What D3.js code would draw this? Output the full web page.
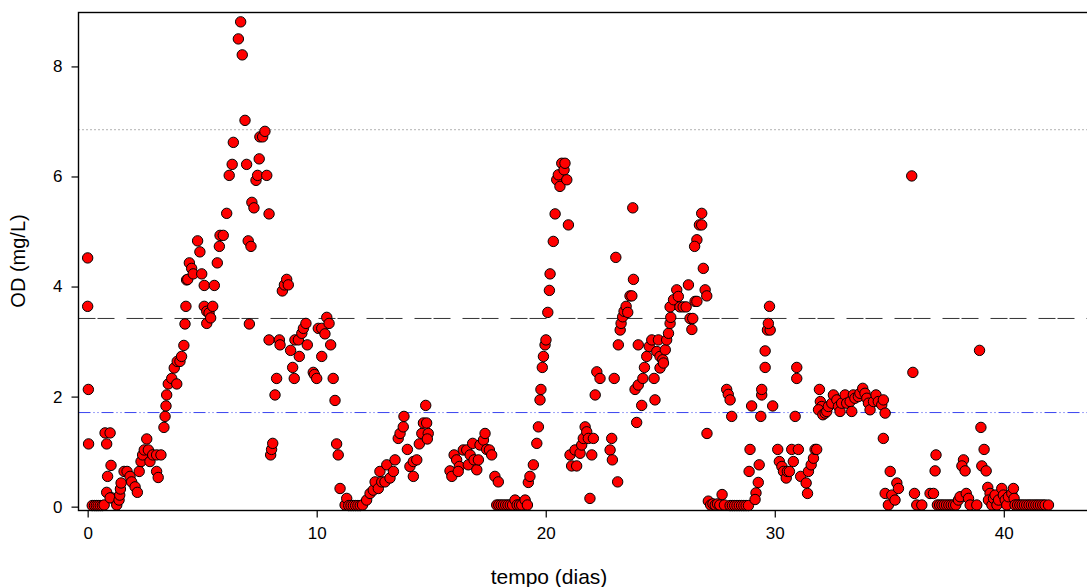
<!DOCTYPE html>
<html>
<head>
<meta charset="utf-8">
<script src="https://cdn.jsdelivr.net/npm/d3@7"></script>
<style>
  body { margin: 0; background: #fff; }
  svg { display: block; font-family: "Liberation Sans", Arial, sans-serif; }
</style>
</head>
<body>
<svg id="chart" width="1087" height="587"></svg>
<script>
// OD (mg/L) over time (days)
// each period: [tempo, OD]
const periodo1 = [
  [0, 4.52], [0, 3.64], [0.03, 2.13], [0.04, 1.14],
  [0.2, 0.02], [0.3, 0.02], [0.38, 0.02], [0.46, 0.02], [0.55, 0.02], [0.64, 0.02], [0.72, 0.03],
  [0.76, 1.34], [0.98, 1.34], [0.83, 1.14], [1.02, 0.75], [0.87, 0.55], [0.83, 0.26], [1.05, 0.16], [0.98, 0.16], [1.27, 0.03],
  [1.37, 0.12], [1.4, 0.21], [1.43, 0.32], [1.46, 0.43], [1.59, 0.64], [1.72, 0.64], [1.85, 0.55], [1.92, 0.45],
  [2.07, 0.36], [2.17, 0.26], [2.25, 0.64], [2.33, 0.82], [2.4, 0.94], [2.47, 1.03], [2.58, 1.23], [2.65, 1.03],
  [2.72, 0.82], [2.84, 0.94], [3.01, 0.94], [3.2, 0.94], [3.01, 0.64], [3.08, 0.53],
  [3.33, 1.44], [3.38, 1.64], [3.42, 1.83], [3.45, 2.03], [3.52, 2.23], [3.67, 2.33], [3.78, 2.52], [3.91, 2.64],
  [4.03, 2.64], [4.1, 2.73], [4.2, 2.93], [3.89, 2.23], [4.25, 3.32], [4.29, 3.64], [4.32, 4.12]
];
const periodo2 = [
  [4.37, 4.13], [4.44, 4.43], [4.54, 4.33], [4.61, 4.23], [4.8, 4.83], [4.9, 4.63], [4.98, 4.23], [5.09, 4.02], [5.53, 4.02],
  [5.09, 3.64], [5.2, 3.55], [5.3, 3.52], [5.46, 3.64], [5.2, 3.33], [5.37, 3.43],
  [5.66, 4.43], [5.75, 4.73], [5.78, 4.93], [5.92, 4.93], [6.07, 5.33], [6.18, 6.02], [6.31, 6.22], [6.36, 6.62],
  [6.58, 8.5], [6.68, 8.81], [6.75, 8.21], [6.87, 7.02], [6.94, 6.22], [7.01, 4.83], [7.13, 4.73], [7.06, 3.32],
  [7.17, 5.53], [7.26, 5.43], [7.35, 5.93], [7.42, 6.02], [7.49, 6.32], [7.52, 6.72], [7.64, 6.72], [7.74, 6.82],
  [7.82, 6.02], [7.92, 5.32],
  [7.92, 3.03], [7.99, 0.94], [8.03, 1.04], [8.08, 1.15], [8.18, 2.03], [8.25, 2.33], [8.37, 3.03], [8.4, 2.94],
  [8.5, 3.92], [8.59, 4.03], [8.69, 4.13], [8.76, 4.03], [8.86, 2.84], [8.95, 2.53], [9.02, 2.33], [9.05, 3.03],
  [9.2, 3.03], [9.24, 2.73], [9.35, 3.15], [9.42, 3.24], [9.53, 3.33], [9.59, 2.94],
  [9.85, 2.44], [9.9, 2.4], [10.0, 2.33], [10.07, 3.24], [10.22, 3.24], [10.22, 2.73], [10.36, 3.14], [10.44, 3.44],
  [10.54, 3.33], [10.61, 2.94], [10.72, 2.33], [10.8, 1.93], [10.87, 1.14], [10.94, 0.94]
];
const periodo3 = [
  [11.02, 0.33], [11.24, 0.03], [11.31, 0.15], [11.4, 0.02], [11.5, 0.02], [11.6, 0.02], [11.7, 0.02], [11.8, 0.02],
  [11.9, 0.02], [12.0, 0.03],
  [12.18, 0.12], [12.33, 0.24], [12.47, 0.3], [12.55, 0.45], [12.69, 0.33], [12.84, 0.45], [12.98, 0.45], [12.76, 0.64],
  [13.06, 0.76], [13.2, 0.52], [13.35, 0.64], [13.42, 0.85],
  [13.56, 1.24], [13.64, 1.33], [13.78, 1.45], [13.81, 1.64], [13.96, 1.04], [14.07, 0.73], [14.22, 0.82], [14.37, 0.85],
  [14.22, 0.55], [14.48, 1.14], [14.59, 1.33], [14.66, 1.52], [14.8, 1.52], [14.87, 1.33], [14.83, 1.23], [14.76, 1.84],
  [15.82, 0.65], [15.9, 0.55], [16.0, 0.94], [16.11, 0.85], [16.23, 0.73], [16.18, 0.64], [16.4, 1.03], [16.55, 1.03],
  [16.7, 0.94], [16.62, 0.76], [16.81, 1.15], [16.87, 0.85], [16.99, 0.67], [17.06, 0.85], [17.13, 1.12], [17.28, 1.21],
  [17.35, 1.33], [17.42, 1.04], [17.54, 1.03], [17.64, 0.94], [17.78, 0.55], [17.93, 0.45]
];
const periodo4 = [
  [17.86, 0.03], [17.95, 0.03], [18.05, 0.03], [18.15, 0.03], [18.25, 0.03], [18.35, 0.03], [18.45, 0.03], [18.55, 0.03],
  [18.66, 0.12], [18.75, 0.03], [18.85, 0.03], [18.95, 0.03], [19.1, 0.12], [19.2, 0.03],
  [19.24, 0.44], [19.31, 0.55], [19.46, 0.76], [19.61, 1.15], [19.68, 1.45], [19.75, 1.94], [19.79, 2.13], [19.85, 2.53],
  [19.9, 2.73], [19.97, 2.94], [20.01, 3.03], [20.09, 3.53], [20.16, 3.93], [20.19, 4.23], [20.33, 4.82], [20.41, 5.32],
  [20.48, 5.94], [20.55, 6.03], [20.62, 5.82], [20.7, 6.24], [20.8, 6.12], [20.84, 6.24], [20.92, 5.94], [20.99, 5.12],
  [21.06, 0.94], [21.13, 0.74], [21.28, 1.03], [21.35, 0.74], [21.5, 0.97], [21.57, 1.12], [21.64, 1.24], [21.72, 1.45],
  [21.79, 1.36], [21.86, 1.24], [22.01, 0.94], [22.08, 1.24], [21.93, 0.15],
  [22.16, 2.03], [22.23, 2.45], [22.37, 2.33], [22.81, 1.03], [22.88, 1.24], [22.91, 0.85], [23.14, 0.45], [22.99, 2.33],
  [23.06, 4.53],
  [23.17, 2.94], [23.25, 3.21], [23.29, 3.33], [23.36, 3.45], [23.42, 3.55], [23.51, 3.64], [23.58, 3.53], [23.68, 3.83],
  [23.76, 3.83], [23.83, 4.13], [23.8, 5.43], [23.97, 1.53], [24.19, 1.84],
  [23.9, 2.13], [24.04, 2.21], [24.04, 2.94], [24.24, 2.33], [24.31, 2.53], [24.41, 2.73], [24.52, 2.91], [24.63, 3.03],
  [24.92, 3.03], [24.85, 2.82], [24.99, 2.73], [25.11, 2.67], [24.73, 2.33], [24.77, 1.94],
  [24.99, 2.52], [25.14, 2.61], [25.22, 2.85], [25.28, 3.03], [25.36, 3.15], [25.43, 3.33], [25.46, 3.44],
  [25.43, 3.63], [25.58, 3.76], [25.72, 3.94], [25.79, 3.82], [25.86, 3.63], [26.0, 3.63], [26.13, 3.63], [26.23, 4.03],
  [26.3, 3.42], [26.42, 3.42], [26.38, 3.22], [26.52, 3.73], [26.6, 3.73],
  [26.81, 5.33], [26.71, 5.12], [26.81, 5.12], [26.6, 4.85], [26.5, 4.73], [26.88, 4.33], [26.96, 3.94], [27.03, 3.83],
  [27.04, 1.33]
];
const periodo5 = [
  [27.1, 0.1], [27.2, 0.03], [27.3, 0.05], [27.4, 0.03], [27.5, 0.05], [27.6, 0.03], [27.7, 0.22], [27.8, 0.03],
  [28.05, 0.02], [28.15, 0.02], [28.25, 0.02], [28.35, 0.02], [28.45, 0.02], [28.55, 0.02], [28.65, 0.02], [28.75, 0.02],
  [28.85, 0.02],
  [27.9, 2.13], [27.97, 2.04], [28.05, 1.94], [28.12, 1.64],
  [28.92, 1.04], [28.88, 0.64], [29.32, 0.76], [29.28, 0.44], [29.18, 0.25], [29.14, 0.13], [28.99, 1.83],
  [29.39, 1.64], [29.43, 2.03], [29.43, 2.13], [29.58, 2.53], [29.58, 2.83], [29.68, 3.21], [29.8, 3.21], [29.72, 3.33],
  [29.77, 3.64], [29.91, 1.83],
  [30.13, 1.04], [30.2, 0.82], [30.31, 0.73], [30.38, 0.64], [30.5, 0.52], [30.55, 0.64], [30.64, 0.64], [30.74, 1.04],
  [30.81, 0.82], [31.03, 1.04], [30.89, 1.64], [30.96, 2.33], [30.96, 2.53],
  [31.13, 0.55], [31.37, 0.43], [31.43, 0.24], [31.47, 0.64], [31.59, 0.76], [31.69, 0.88], [31.76, 1.04], [31.83, 1.04],
  [31.95, 2.13], [31.99, 1.91], [32.05, 1.82], [31.91, 1.76], [32.1, 1.67], [32.2, 1.7], [32.27, 1.73], [32.34, 1.82],
  [32.49, 1.88], [32.56, 2.03], [32.71, 1.94], [32.78, 1.82], [32.85, 1.73], [32.92, 1.88], [33.07, 2.03], [33.14, 1.88],
  [33.29, 1.91], [33.36, 1.73], [33.43, 2.03], [33.5, 1.97], [33.65, 2.0], [33.72, 2.06], [33.84, 2.15], [33.94, 2.06],
  [34.02, 1.97], [34.09, 1.88], [34.16, 1.76], [34.31, 1.91], [34.42, 2.03], [34.52, 1.91], [34.67, 1.85], [34.74, 1.94],
  [34.82, 1.7],
  [34.74, 1.24], [35.04, 0.64], [34.82, 0.24], [34.96, 0.03], [35.11, 0.21], [35.25, 0.12], [35.33, 0.43], [35.4, 0.33],
  [35.98, 6.01], [36.03, 2.44], [36.1, 0.24], [36.2, 0.03], [36.42, 0.03],
  [37.04, 0.94], [37.0, 0.65], [36.78, 0.24], [36.93, 0.24],
  [37.1, 0.03], [37.2, 0.03], [37.3, 0.03], [37.4, 0.03], [37.5, 0.03], [37.6, 0.03], [37.7, 0.03], [37.8, 0.03], [37.9, 0.03],
  [38.24, 0.85], [38.17, 0.74], [38.31, 0.65], [38.02, 0.12], [38.09, 0.18], [38.36, 0.24], [38.46, 0.15], [38.53, 0.03],
  [38.82, 0.03],
  [38.94, 2.84], [39.0, 1.44], [39.14, 1.04], [39.04, 0.74], [39.23, 0.65],
  [39.3, 0.35], [39.4, 0.24], [39.33, 0.12], [39.48, 0.03], [39.55, 0.15], [39.62, 0.21], [39.7, 0.03], [39.77, 0.12],
  [39.91, 0.33], [39.98, 0.21], [40.06, 0.12], [40.13, 0.03], [40.2, 0.18], [40.35, 0.24], [40.42, 0.33], [40.45, 0.15],
  [40.49, 0.03],
  [40.6, 0.03], [40.7, 0.03], [40.8, 0.03], [40.9, 0.03], [41.0, 0.03], [41.1, 0.03], [41.2, 0.03], [41.3, 0.03],
  [41.4, 0.03], [41.5, 0.03], [41.6, 0.03], [41.7, 0.03], [41.8, 0.03], [41.95, 0.03]
];

// horizontal reference levels
const limites = [
  {nome: 'pontilhado', valor: 6.85},
  {nome: 'tracejado', valor: 3.42},
  {nome: 'azul', valor: 1.71}
];
const xTicks = [0, 10, 20, 30, 40];
const yTicks = [0, 2, 4, 6, 8];

const data = [].concat(periodo1, periodo2, periodo3, periodo4, periodo5);

const svg = d3.select('#chart');
const plot = {left: 78.5, right: 1100, top: 12.5, bottom: 510.5};

const x = d3.scaleLinear().domain([-0.4, 44.2]).range([plot.left, plot.right]);
const y = d3.scaleLinear().domain([-0.07, 8.98]).range([plot.bottom, plot.top]);

// reference lines
const lineStyles = {
  pontilhado: {stroke: '#666', dash: '1,3', width: 1},
  tracejado: {stroke: '#333', dash: '17,2,17,12', width: 1},
  azul: {stroke: '#3a45f0', dash: '12,3,1,3,1,3', width: 1}
};
svg.append('g').selectAll('line')
  .data(limites)
  .enter()
    .append('line')
    .attr('x1', plot.left).attr('x2', plot.right)
    .attr('y1', d => y(d.valor)).attr('y2', d => y(d.valor))
    .attr('stroke', d => lineStyles[d.nome].stroke)
    .attr('stroke-width', d => lineStyles[d.nome].width)
    .attr('stroke-dasharray', d => lineStyles[d.nome].dash);

// points
svg.append('g').selectAll('circle')
  .data(data)
  .enter()
    .append('circle')
    .attr('cx', d => x(d[0]))
    .attr('cy', d => y(d[1]))
    .attr('r', 5.2)
    .attr('fill', '#ff0000')
    .attr('stroke', '#000')
    .attr('stroke-width', 1);

// frame
svg.append('rect')
  .attr('x', plot.left).attr('y', plot.top)
  .attr('width', plot.right - plot.left).attr('height', plot.bottom - plot.top)
  .attr('fill', 'none')
  .attr('stroke', '#000')
  .attr('stroke-width', 1.4);

// axes
const yAxis = d3.axisLeft(y).tickValues(yTicks).tickSize(7).tickPadding(9).tickFormat(d3.format('d'));
svg.append('g')
  .attr('transform', `translate(${plot.left}, 0)`)
  .call(yAxis)
  .call(g => g.select('.domain').remove())
  .call(g => g.selectAll('line').attr('stroke-width', 1.2))
  .call(g => g.selectAll('text').style('font-size', '17px').style('font-family', '"Liberation Sans", Arial, sans-serif').attr('fill', '#000'));

const xAxis = d3.axisBottom(x).tickValues(xTicks).tickSize(7).tickPadding(9).tickFormat(d3.format('d'));
svg.append('g')
  .attr('transform', `translate(0, ${plot.bottom})`)
  .call(xAxis)
  .call(g => g.select('.domain').remove())
  .call(g => g.selectAll('line').attr('stroke-width', 1.2))
  .call(g => g.selectAll('text').style('font-size', '17px').style('font-family', '"Liberation Sans", Arial, sans-serif').attr('fill', '#000'));

// axis titles
svg.append('text')
  .attr('x', 549).attr('y', 584)
  .attr('text-anchor', 'middle')
  .style('font-size', '21px')
  .text('tempo (dias)');

svg.append('text')
  .attr('transform', 'translate(25, 261) rotate(-90)')
  .attr('text-anchor', 'middle')
  .style('font-size', '20px')
  .text('OD (mg/L)');
</script>
</body>
</html>
